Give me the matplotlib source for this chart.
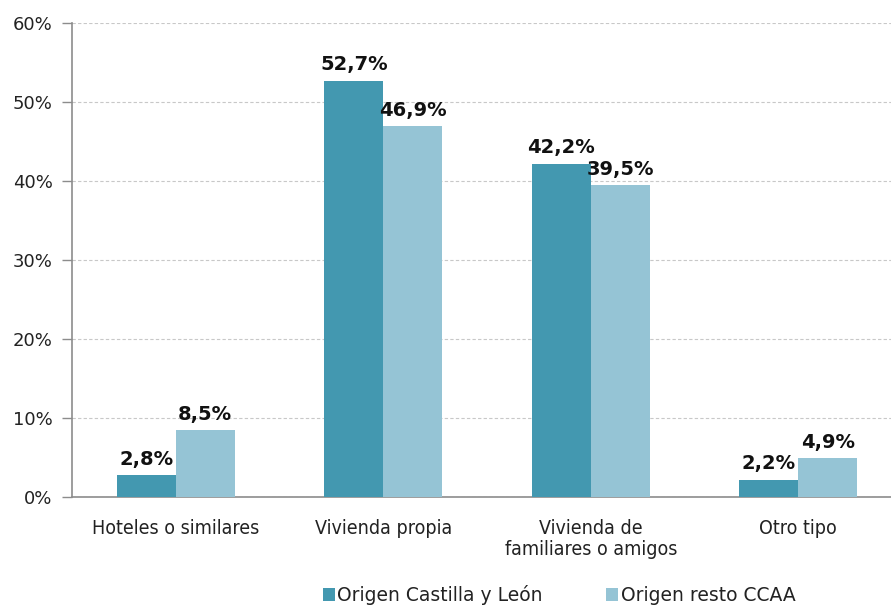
import matplotlib
matplotlib.use("Agg")
import matplotlib.pyplot as plt
from matplotlib.ticker import FuncFormatter, MultipleLocator
import numpy as np

plt.rcParams["font.family"] = ["DejaVu Sans"]

categories = ["Hoteles o similares", "Vivienda propia", "Vivienda de\nfamiliares o amigos", "Otro tipo"]
castilla_leon = [2.8, 52.7, 42.2, 2.2]
resto_ccaa = [8.5, 46.9, 39.5, 4.9]
series_names = ["Origen Castilla y León", "Origen resto CCAA"]

color_dark = "#4398B0"
color_light = "#95C4D5"
axis_gray = "#8C8C8C"

fig = plt.figure(figsize=(8.91, 6.05), dpi=100)
W, H = 891, 605
ax_left, ax_right, ax_top, ax_bottom = 72, 902, 23, 497
ax = fig.add_axes([ax_left / W, 1 - ax_bottom / H, (ax_right - ax_left) / W, (ax_bottom - ax_top) / H])

x = np.arange(len(categories))
bw = 0.284
b1 = ax.bar(x - bw / 2, castilla_leon, bw, color=color_dark, label=series_names[0], zorder=3)
b2 = ax.bar(x + bw / 2, resto_ccaa, bw, color=color_light, label=series_names[1], zorder=3)

def fmt(v):
    return f"{v:.1f}%".replace(".", ",")

for bars, vals in ((b1, castilla_leon), (b2, resto_ccaa)):
    for b, v in zip(bars, vals):
        ax.annotate(fmt(v), (b.get_x() + b.get_width() / 2, v), xytext=(0, 4.5),
                    textcoords="offset points", ha="center", va="bottom",
                    fontsize=14, fontweight="bold", color="#111111", zorder=5)

ax.set_xlim(-0.5, len(categories) - 0.5)
ax.set_ylim(0, 60)
ax.yaxis.set_major_locator(MultipleLocator(10))
ax.yaxis.set_major_formatter(FuncFormatter(lambda v, p: f"{v:.0f}%"))
ax.grid(axis="y", color="#C8C8C8", linestyle=(0, (3, 2)), linewidth=0.8, zorder=0)
ax.set_axisbelow(True)

for s in ("top", "right"):
    ax.spines[s].set_visible(False)
ax.spines["left"].set_color(axis_gray)
ax.spines["bottom"].set_color(axis_gray)
ax.spines["left"].set_linewidth(1.2)
ax.spines["bottom"].set_linewidth(1.2)

ax.tick_params(axis="y", length=7, width=1, color=axis_gray, labelsize=13, labelcolor="#222222", pad=7)
ax.tick_params(axis="x", length=0, labelsize=14, labelcolor="#222222", pad=16)
ax.set_xticks(x)
ax.set_xticklabels(categories, fontstretch="condensed", linespacing=1.15)

fig.legend(handles=[b1, b2], labels=series_names, loc="center", bbox_to_anchor=(559 / W, 1 - 595 / H),
           ncol=2, frameon=False, fontsize=13.5, handlelength=0.65, handleheight=0.65,
           handletextpad=0.12, columnspacing=3.4, labelcolor="#222222", borderpad=0)

fig.savefig("out.png", dpi=100)
